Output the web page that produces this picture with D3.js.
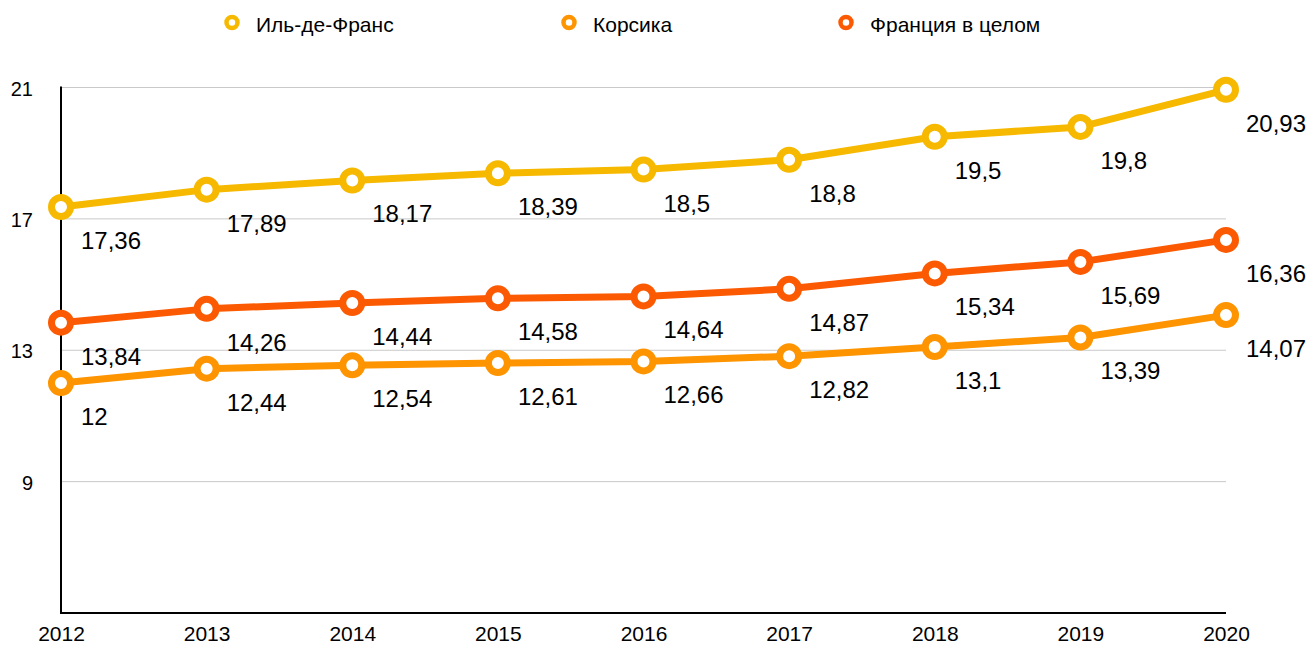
<!DOCTYPE html>
<html>
<head>
<meta charset="utf-8">
<script src="https://cdn.jsdelivr.net/npm/d3@7/dist/d3.min.js"></script>
<style>
  html, body { margin: 0; padding: 0; background: #fff; }
  svg { display: block; font-family: "Liberation Sans", Arial, Helvetica, sans-serif; }
</style>
</head>
<body>
<svg id="chart" width="1311" height="645"></svg>
<script>
const years = [2012, 2013, 2014, 2015, 2016, 2017, 2018, 2019, 2020];
const seriesNames = ["Иль-де-Франс", "Корсика", "Франция в целом"];
const ileDeFrance = [17.36, 17.89, 18.17, 18.39, 18.5, 18.8, 19.5, 19.8, 20.93];
const corsica = [12, 12.44, 12.54, 12.61, 12.66, 12.82, 13.1, 13.39, 14.07];
const franceTotal = [13.84, 14.26, 14.44, 14.58, 14.64, 14.87, 15.34, 15.69, 16.36];
const yTicks = [9, 13, 17, 21];
const colors = ["#F6B900", "#FD9400", "#FC5A02"];

const series = [
  { name: seriesNames[0], values: ileDeFrance, color: colors[0] },
  { name: seriesNames[1], values: corsica, color: colors[1] },
  { name: seriesNames[2], values: franceTotal, color: colors[2] }
];

const svg = d3.select("#chart");
const mLeft = 61, mRight = 1226, mTop = 87.5, mBottom = 613;

const x = d3.scalePoint().domain(years).range([mLeft, mRight]);
const y = d3.scaleLinear().domain([5, 21]).range([mBottom, mTop]);

// gridlines
svg.append("g").selectAll("line").data(yTicks).join("line")
  .attr("x1", mLeft).attr("x2", mRight)
  .attr("y1", d => y(d)).attr("y2", d => y(d))
  .attr("stroke", "#c9c9c9").attr("stroke-width", 1);

// y axis
const yAxis = svg.append("g").attr("transform", `translate(${mLeft},0)`)
  .call(d3.axisLeft(y).tickValues(yTicks).tickSize(0).tickPadding(28).tickFormat(d => String(d)));
yAxis.select(".domain").remove();
yAxis.selectAll("text").attr("font-size", 20).attr("fill", "#000")
  .attr("font-family", "Liberation Sans, Arial, sans-serif").attr("dy", "0.38em");

// x axis
const xAxis = svg.append("g").attr("transform", `translate(0,${mBottom})`)
  .call(d3.axisBottom(x).tickSize(0).tickPadding(13).tickFormat(d => String(d)));
xAxis.select(".domain").remove();
xAxis.selectAll("text").attr("font-size", 21).attr("fill", "#000")
  .attr("font-family", "Liberation Sans, Arial, sans-serif").attr("dy", "0.71em");

// axis lines
svg.append("line").attr("x1", mLeft).attr("x2", mLeft).attr("y1", mTop - 1).attr("y2", mBottom + 1)
  .attr("stroke", "#000").attr("stroke-width", 2);
svg.append("line").attr("x1", mLeft - 1).attr("x2", mRight).attr("y1", mBottom).attr("y2", mBottom)
  .attr("stroke", "#000").attr("stroke-width", 2);

const line = d3.line().x((d, i) => x(years[i])).y(d => y(d));

series.forEach(s => {
  svg.append("path").datum(s.values)
    .attr("d", line).attr("fill", "none")
    .attr("stroke", s.color).attr("stroke-width", 7).attr("stroke-linejoin", "round");
});

series.forEach(s => {
  svg.append("g").selectAll("circle").data(s.values).join("circle")
    .attr("cx", (d, i) => x(years[i])).attr("cy", d => y(d)).attr("r", 9.5)
    .attr("fill", "#fff").attr("stroke", s.color).attr("stroke-width", 7);
});

series.forEach(s => {
  svg.append("g").selectAll("text").data(s.values).join("text")
    .attr("x", (d, i) => x(years[i]) + 20).attr("y", d => y(d) + 42)
    .attr("font-size", 24).attr("fill", "#000")
    .text(d => String(d).replace(".", ","));
});

// legend
const legendX = [232, 569, 846];
const legend = svg.append("g");
series.forEach((s, i) => {
  legend.append("circle").attr("cx", legendX[i]).attr("cy", 22.5).attr("r", 5.5)
    .attr("fill", "#fff").attr("stroke", s.color).attr("stroke-width", 4.5);
  legend.append("text").attr("x", legendX[i] + 24).attr("y", 31.5)
    .attr("font-size", 21).attr("fill", "#000").text(s.name);
});
</script>
</body>
</html>
